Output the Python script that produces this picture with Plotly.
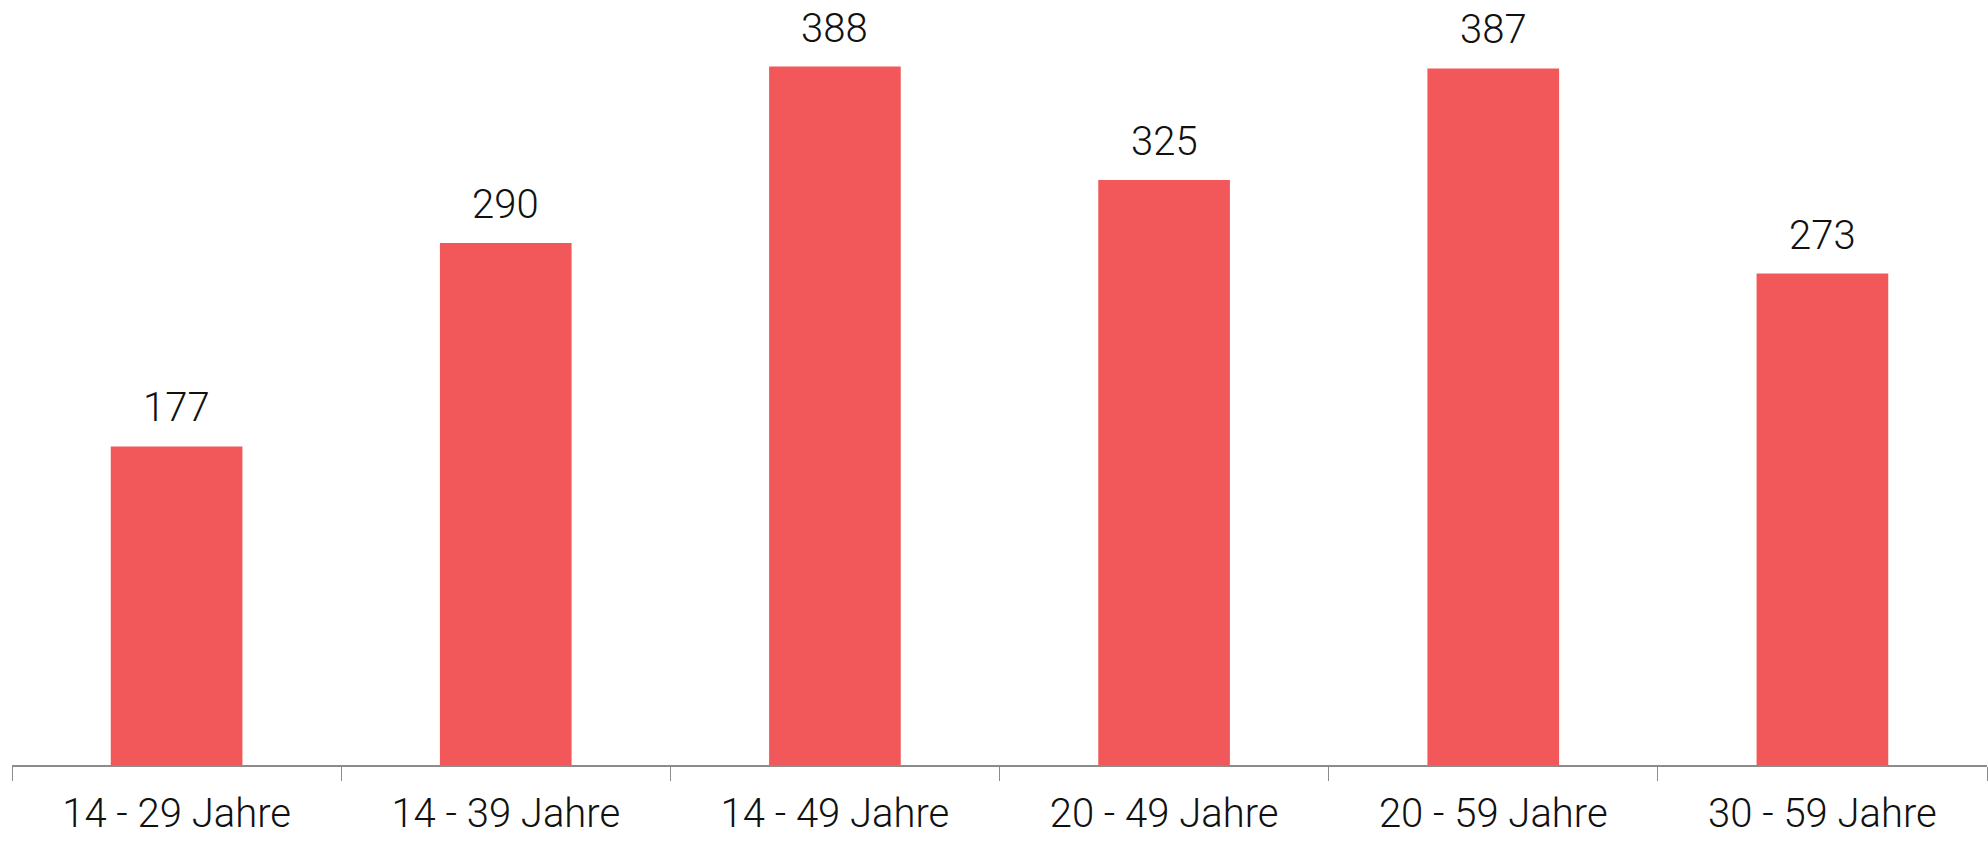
import plotly.graph_objects as go

categories = ["14 - 29 Jahre", "14 - 39 Jahre", "14 - 49 Jahre",
              "20 - 49 Jahre", "20 - 59 Jahre", "30 - 59 Jahre"]
values = [177, 290, 388, 325, 387, 273]

FONT = "Roboto, Liberation Sans, sans-serif"
TEXT_COLOR = "#111111"

fig = go.Figure(
    go.Bar(
        x=categories,
        y=values,
        marker=dict(color="#F25859", line=dict(width=0)),
        hoverinfo="x+y",
    )
)

# value labels sitting above each bar
for cat, val in zip(categories, values):
    fig.add_annotation(
        x=cat,
        y=val,
        text=str(val),
        showarrow=False,
        yanchor="bottom",
        yshift=13,
        font=dict(family=FONT, size=40, color=TEXT_COLOR, weight=300),
    )

fig.update_layout(
    width=1988,
    height=841,
    margin=dict(l=12, r=1, t=0, b=76),
    paper_bgcolor="white",
    plot_bgcolor="white",
    bargap=0.6,
    showlegend=False,
    font=dict(family=FONT, color=TEXT_COLOR),
)

fig.update_xaxes(
    automargin=False,
    showline=True,
    linecolor="#8c8c8c",
    linewidth=2,
    ticks="outside",
    tickson="boundaries",
    ticklen=14,
    tickwidth=1,
    tickcolor="#8c8c8c",
    ticklabelstandoff=12,
    tickfont=dict(family=FONT, size=40, color=TEXT_COLOR, weight=300),
    showgrid=False,
)

fig.update_yaxes(
    range=[0, 425],
    visible=False,
    showgrid=False,
    zeroline=False,
)

fig.write_html("out.html")
